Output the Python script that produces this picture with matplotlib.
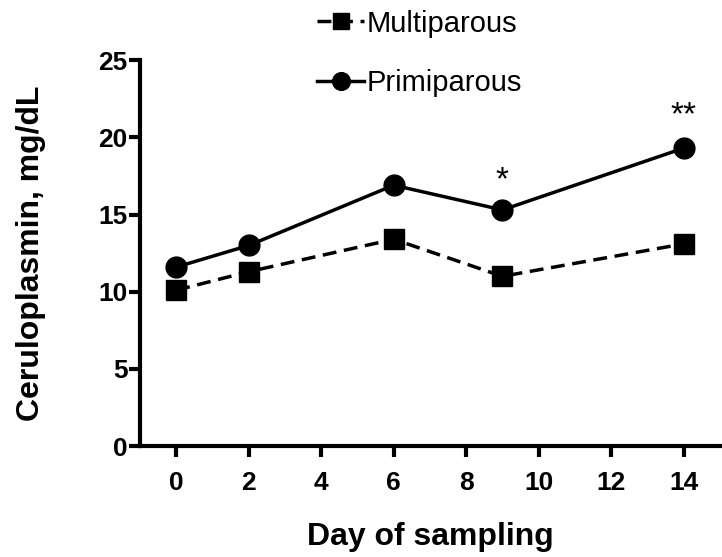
import matplotlib
matplotlib.use('Agg')
from matplotlib import pyplot as plt

plt.rcParams['font.family'] = ['Liberation Sans', 'DejaVu Sans']

days = [0, 2, 6, 9, 14]
multiparous = [10.1, 11.3, 13.4, 11.0, 13.1]
primiparous = [11.6, 13.0, 16.9, 15.3, 19.3]
star_labels = {9: '*', 14: '**'}
star_heights = {9: 17.2, 14: 21.4}

fig = plt.figure(figsize=(7.22, 5.57), dpi=100)
ax = fig.add_axes([0.194, 0.199, 0.803, 0.693])

ax.plot(days, multiparous, color='black', lw=2.5, ls=(0, (4, 2.2)),
        marker='s', ms=14, label='Multiparous')
ax.plot(days, primiparous, color='black', lw=2.5, ls='-',
        marker='o', ms=15, label='Primiparous')

for d, s in star_labels.items():
    ax.text(d, star_heights[d], s, ha='center', va='center', fontsize=24)

ax.set_xlim(-1, 15)
ax.set_ylim(0, 25)
ax.set_xticks(range(0, 15, 2))
ax.set_yticks(range(0, 26, 5))

for side in ['top', 'right']:
    ax.spines[side].set_visible(False)
for side in ['left', 'bottom']:
    ax.spines[side].set_linewidth(3)
ax.tick_params(width=3, length=8, labelsize=19)
for lab in ax.get_xticklabels() + ax.get_yticklabels():
    lab.set_fontweight('bold')
ax.tick_params(axis='x', pad=10)
ax.tick_params(axis='y', pad=1)

ax.set_xlabel('Day of sampling', fontsize=23, fontweight='bold', labelpad=19)
ax.set_ylabel('Ceruloplasmin, mg/dL', fontsize=23, fontweight='bold', labelpad=38)

leg = fig.legend(loc='upper left', bbox_to_anchor=(0.403, 1.03), frameon=False,
                 fontsize=21, handlelength=1.6, handletextpad=0.1,
                 labelspacing=1.08, markerscale=0.85)

fig.savefig('out.png', dpi=100)
